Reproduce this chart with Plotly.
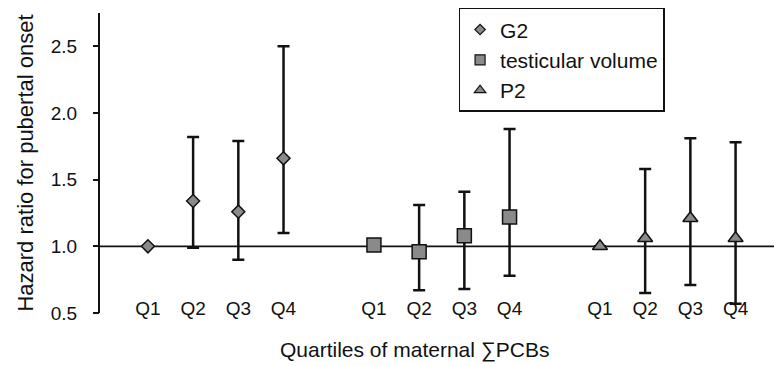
import plotly.graph_objects as go

# ---- data ----
quartiles = ["Q1", "Q2", "Q3", "Q4"]
outcomes = ["G2", "testicular volume", "P2"]
x_pos = {"G2": [1, 2, 3, 4], "testicular volume": [6, 7, 8, 9], "P2": [11, 12, 13, 14]}

g2_hr = [1.00, 1.34, 1.26, 1.66]
g2_lo = [1.00, 0.99, 0.90, 1.10]
g2_hi = [1.00, 1.82, 1.79, 2.50]

tv_hr = [1.01, 0.96, 1.08, 1.22]
tv_lo = [1.01, 0.67, 0.68, 0.78]
tv_hi = [1.01, 1.31, 1.41, 1.88]

p2_hr = [1.00, 1.06, 1.21, 1.06]
p2_lo = [1.00, 0.65, 0.71, 0.57]
p2_hi = [1.00, 1.58, 1.81, 1.78]

y_ticks = [0.5, 1.0, 1.5, 2.0, 2.5]
y_range = [0.5, 2.75]
reference_hr = 1.0

series = {
    "G2": (g2_hr, g2_lo, g2_hi, "diamond", 10, 8),
    "testicular volume": (tv_hr, tv_lo, tv_hi, "square", 14, 10),
    "P2": (p2_hr, p2_lo, p2_hi, "triangle-up", 13, 10),
}

FONT = "Liberation Sans, Arial, sans-serif"
fig = go.Figure()

for name in outcomes:
    hr, lo, hi, sym, size, lsize = series[name]
    xs = x_pos[name]
    fig.add_trace(go.Scatter(
        x=xs, y=hr, mode="markers", showlegend=False,
        marker=dict(symbol=sym, size=size, color="#8a8a8a",
                    line=dict(color="#111111", width=1.5)),
        error_y=dict(type="data", symmetric=False,
                     array=[h - v for h, v in zip(hi, hr)],
                     arrayminus=[v - l for v, l in zip(hr, lo)],
                     color="#111111", thickness=2.5, width=6),
        cliponaxis=False,
    ))
    # legend-only entry with smaller marker
    fig.add_trace(go.Scatter(
        x=[None], y=[None], mode="markers", name=name,
        marker=dict(symbol=sym, size=lsize, color="#8a8a8a",
                    line=dict(color="#111111", width=1.2)),
    ))
    # quartile labels along the bottom
    fig.add_trace(go.Scatter(
        x=xs, y=[0.52] * len(xs), mode="text", text=quartiles,
        textposition="middle center", showlegend=False,
        textfont=dict(family=FONT, size=19, color="#111111"),
        cliponaxis=False, hoverinfo="skip",
    ))

# invisible trace to activate the overlay axis carrying the short black ticks
fig.add_trace(go.Scatter(x=[None], y=[None], yaxis="y2", showlegend=False,
                         hoverinfo="skip"))

fig.add_shape(type="line", xref="paper", x0=0, x1=1, yref="y",
              y0=reference_hr, y1=reference_hr,
              line=dict(color="#111111", width=1.8), layer="below")

fig.update_layout(
    width=774, height=366,
    margin=dict(l=100, r=0, t=13, b=53),
    plot_bgcolor="white", paper_bgcolor="white",
    font=dict(family=FONT, color="#111111"),
    xaxis=dict(range=[-0.06, 14.85], showline=False, showgrid=False,
               zeroline=False, showticklabels=False, ticks=""),
    yaxis=dict(range=y_range, tickvals=y_ticks, tickformat=".1f",
               showline=True, linecolor="#111111", linewidth=2,
               ticks="outside", ticklen=17, tickwidth=1,
               tickcolor="rgba(0,0,0,0)",
               showgrid=False, zeroline=False,
               tickfont=dict(family=FONT, size=19, color="#111111"),
               title=dict(text="Hazard ratio for pubertal onset",
                          font=dict(family=FONT, size=22, color="#111111"),
                          standoff=11)),
    yaxis2=dict(range=y_range, tickvals=y_ticks, overlaying="y", side="left",
                anchor="x", showline=False, showgrid=False, zeroline=False,
                showticklabels=False, ticks="outside", ticklen=6,
                tickwidth=1.5, tickcolor="#111111"),
    legend=dict(x=0.532, y=1.017, xanchor="left", yanchor="top",
                bgcolor="white", bordercolor="#111111", borderwidth=1.5,
                font=dict(family=FONT, size=21, color="#111111"),
                tracegroupgap=0),
    annotations=[dict(text="Quartiles of maternal ∑PCBs", xref="paper", yref="paper",
                      x=0.467, y=-0.123, xanchor="center", yanchor="middle",
                      showarrow=False,
                      font=dict(family=FONT, size=21, color="#111111"))],
)

fig.write_html("out.html")
